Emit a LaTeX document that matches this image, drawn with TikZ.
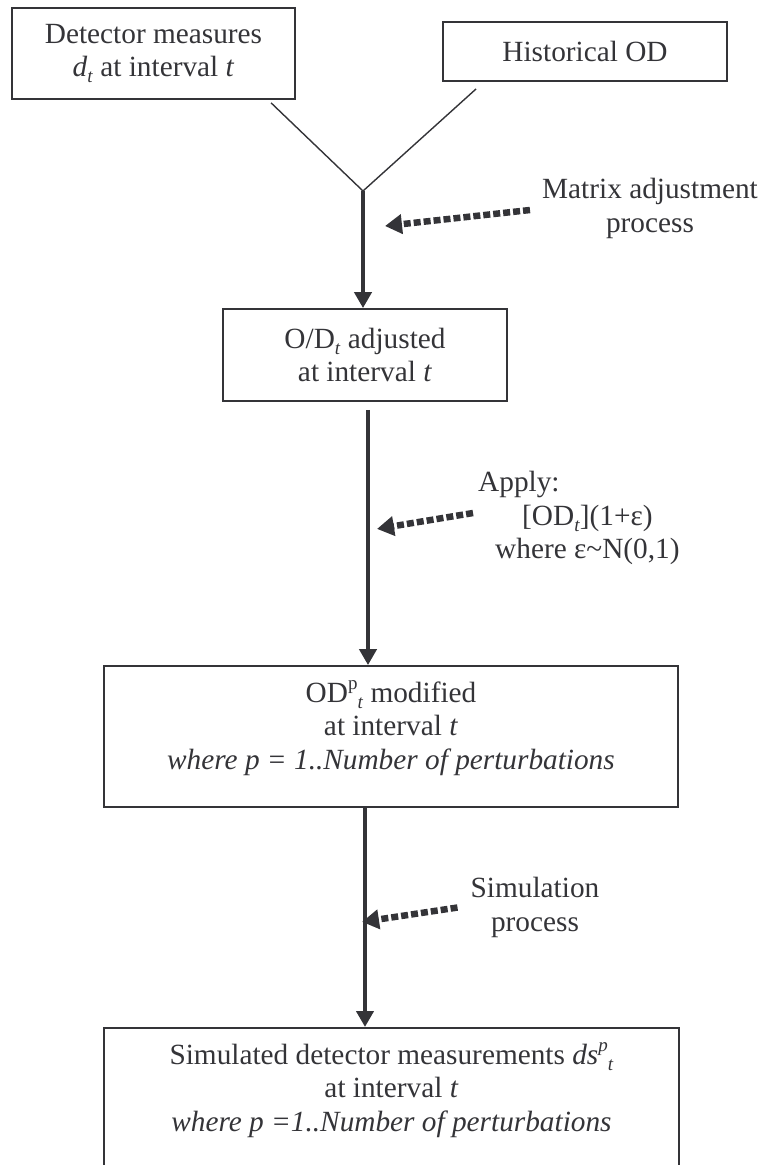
\documentclass[tikz,border=0pt]{standalone}
\usepackage{fontspec}
\setmainfont{Liberation Serif}
\usetikzlibrary{arrows.meta,calc}
\definecolor{ink}{RGB}{52,52,56}
% lowered and raised indices in running text
\newcommand\lowidx[1]{\raisebox{-0.22em}{\fontsize{19}{19}\selectfont #1}}
\newcommand\upidx[1]{\raisebox{0.42em}{\fontsize{19}{19}\selectfont #1}}

\begin{document}
\begin{tikzpicture}[x=1pt,y=-1pt,
  every node/.style={text=ink, font=\fontsize{29.3}{33.5}\selectfont, inner sep=0pt},
  box/.style={draw=ink, line width=1.8pt, rectangle, inner sep=0pt, align=center},
  feed/.style={draw=ink, line width=1.4pt},
  flow/.style={draw=ink, line width=4pt, -{Triangle[length=16pt,width=17pt]}},
  hint/.style={draw=ink, line width=6.5pt, dash pattern=on 7pt off 3pt, -{Triangle[length=17pt,width=19pt]}},
  note/.style={align=center}]

\useasboundingbox (0,0) rectangle (760,1165);
\clip (0,0) rectangle (760,1165);

% inputs
\node[box, minimum width=283pt, minimum height=91pt] (det) at (153.5,53.5)
  {Detector measures\\\textit{d}\lowidx{\textit{t}} at interval \textit{t}};
\node[box, minimum width=284pt, minimum height=59pt] (hist) at (585,51.5)
  {Historical OD};

% adjusted matrix
\node[box, minimum width=284pt, minimum height=92pt] (adj) at (365,355)
  {O/D\lowidx{\textit{t}} adjusted\\at interval \textit{t}};

% perturbed matrices
\node[box, minimum width=574pt, minimum height=141pt] (mod) at (391,736.5) {};
\node[note] (modtxt) at (391,728)
  {OD\upidx{p}\lowidx{\textit{t}} modified\\at interval \textit{t}\\\textit{where p = 1..Number of perturbations}};

% simulated measurements (box runs past the lower edge)
\node[box, minimum width=575pt, minimum height=170pt, anchor=north] (sim) at (391.5,1027) {};
\node[note] (simtxt) at (391.5,1090)
  {Simulated detector measurements \textit{ds}\upidx{\textit{p}}\lowidx{\textit{t}}\\at interval \textit{t}\\\textit{where p =1..Number of perturbations}};

% side labels
\node[note] (matlbl) at (650,208.5) {Matrix adjustment\\process};
\node[align=left, anchor=west] (applbl) at (478,518)
  {Apply:\\\hspace*{44pt}[OD\lowidx{\textit{t}}](1+ε)\\\hspace*{17pt}where ε\textasciitilde N(0,1)};
\node[note] (simlbl) at (535,907.5) {Simulation\\process};

% merging inputs
\coordinate (fork) at (363,191);
\draw[feed] ($(det.south west)+(260,3)$) -- (fork);
\draw[feed] ($(hist.south west)+(34,7)$) -- (fork);

% main flow
\draw[flow] (fork) -- (fork |- adj.north);
\coordinate (adjout) at ($(adj.south)+(3,8)$);
\draw[flow] (adjout) -- (adjout |- mod.north);
\coordinate (modout) at ($(mod.south)+(-26,0)$);
\draw[flow] (modout) -- (modout |- sim.north);

% process hints
\coordinate (tip1) at ($(fork)+(22,35)$);
\draw[hint] ($(matlbl.west)+(-12,1.5)$) -- (tip1);
\coordinate (tip2) at ($(adjout)+(9,119)$);
\draw[hint] ($(applbl.west)+(-5,-5)$) -- (tip2);
\coordinate (tip3) at ($(modout)+(-3,114)$);
\draw[hint] ($(simlbl.west)+(-13,0)$) -- (tip3);
\end{tikzpicture}
\end{document}
